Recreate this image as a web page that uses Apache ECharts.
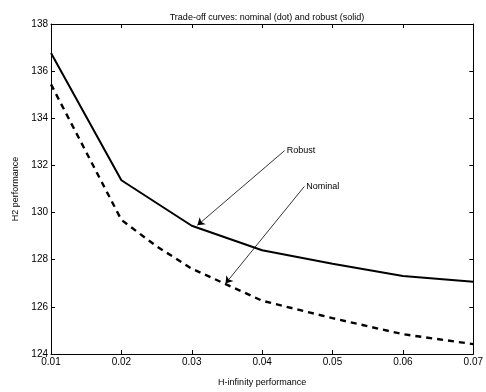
<!DOCTYPE html>
<html><head><meta charset="utf-8">
<script src="https://cdn.jsdelivr.net/npm/echarts@6/dist/echarts.min.js"></script>
<style>html,body{margin:0;padding:0;background:#fff}#c{width:486px;height:392px}</style>
</head><body><div id="c"></div><script>
const titleText = 'Trade-off curves: nominal (dot) and robust (solid)';
const xName = 'H-infinity performance';
const yName = 'H2 performance';
const robustX = [0.01, 0.02, 0.03, 0.04, 0.05, 0.06, 0.07];
const robustY = [136.77, 131.37, 129.44, 128.40, 127.83, 127.31, 127.07];
const nominalX = [0.01, 0.02, 0.025, 0.03, 0.04, 0.05, 0.06, 0.07];
const nominalY = [135.44, 129.69, 128.57, 127.62, 126.26, 125.52, 124.84, 124.42];
const robustLabel = 'Robust';
const nominalLabel = 'Nominal';
// annotation leader lines (data coordinates): [labelPoint, arrowTip]
const robustArrow = [[0.0432, 132.63], [0.0308, 129.46]];
const nominalArrow = [[0.0460, 131.11], [0.0348, 126.99]];

const FONT = 'Liberation Sans, Arial, sans-serif';
const pairs = (xs, ys) => xs.map((x, i) => [x, ys[i]]);

function annot(arrow, text) {
  return {
    markLine: {
      silent: true, animation: false,
      symbol: ['none', 'arrow'], symbolSize: 7,
      lineStyle: { color: '#000', width: 0.8, type: 'solid' },
      itemStyle: { color: '#000' },
      label: { show: false },
      data: [[{ coord: arrow[0] }, { coord: arrow[1] }]]
    },
    markPoint: {
      silent: true, animation: false,
      symbol: 'circle', symbolSize: 0,
      label: { show: true, position: 'right', distance: 2, formatter: text,
               color: '#000', fontSize: 9, fontFamily: FONT },
      data: [{ coord: arrow[0] }]
    }
  };
}

const chart = echarts.init(document.getElementById('c'), null, { renderer: 'canvas' });
const axisCommon = {
  type: 'value', splitLine: { show: false },
  axisLine: { show: true, onZero: false, lineStyle: { color: '#000', width: 1 } },
  axisTick: { show: true, inside: true, length: 4, lineStyle: { color: '#000' } }
};
chart.setOption({
  animation: false,
  backgroundColor: '#fff',
  title: { text: titleText, left: 262, textAlign: 'center', top: 8,
           textStyle: { fontSize: 9, fontWeight: 'normal', color: '#000', fontFamily: FONT } },
  grid: { left: 51, right: 12, top: 24, bottom: 35 },
  xAxis: [
    Object.assign({}, axisCommon, {
      min: 0.01, max: 0.07, interval: 0.01, position: 'bottom',
      name: xName, nameLocation: 'middle', nameGap: 24,
      nameTextStyle: { fontSize: 9, color: '#000', fontFamily: FONT },
      axisLabel: { fontSize: 10, color: '#000', fontFamily: FONT, margin: 3,
                   formatter: v => v.toFixed(2) }
    }),
    Object.assign({}, axisCommon, {
      min: 0.01, max: 0.07, interval: 0.01, position: 'top', axisLabel: { show: false }
    })
  ],
  yAxis: [
    Object.assign({}, axisCommon, {
      min: 124, max: 138, interval: 2, position: 'left',
      name: yName, nameLocation: 'middle', nameGap: 31, nameRotate: 90,
      nameTextStyle: { fontSize: 9, color: '#000', fontFamily: FONT },
      axisLabel: { fontSize: 10, color: '#000', fontFamily: FONT, margin: 3 }
    }),
    Object.assign({}, axisCommon, {
      min: 124, max: 138, interval: 2, position: 'right', axisLabel: { show: false }
    })
  ],
  series: [
    Object.assign({
      name: robustLabel, type: 'line', data: pairs(robustX, robustY),
      showSymbol: false, symbol: 'none',
      lineStyle: { color: '#000', width: 2, type: 'solid' },
      z: 3
    }, annot(robustArrow, robustLabel)),
    Object.assign({
      name: nominalLabel, type: 'line', data: pairs(nominalX, nominalY),
      showSymbol: false, symbol: 'none',
      lineStyle: { color: '#000', width: 2.4, type: [6, 5] },
      z: 3
    }, annot(nominalArrow, nominalLabel))
  ]
});
</script></body></html>
